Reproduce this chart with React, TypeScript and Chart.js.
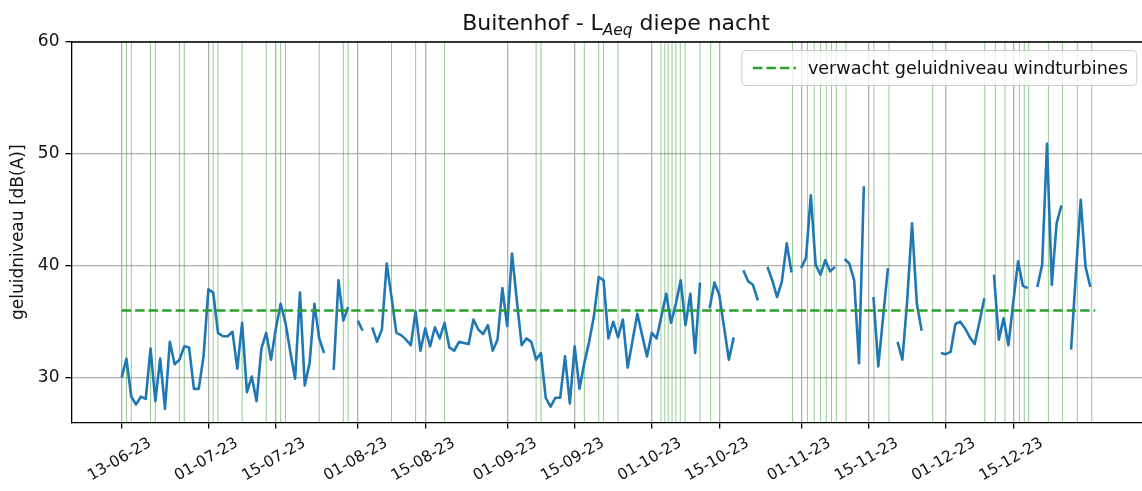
import React, { useEffect, useRef } from 'react';
import { Chart, registerables } from 'chart.js';

Chart.register(...registerables);

// ---------- data ----------
const startDate = '2023-06-13';

// nightly L_Aeq (dB(A)), one value per day from startDate; null = no measurement
const levels: (number | null)[] = [
  30.0, 31.7, 28.3, 27.6, 28.3, 28.1, 32.6, 27.9, 31.7, 27.2, // 13-06 .. 22-06
  33.2, 31.2, 31.6, 32.8, 32.7, 29.0, 29.0, 31.9, 37.9, 37.6, // 23-06 .. 02-07
  34.0, 33.7, 33.7, 34.1, 30.8, 34.9, 28.7, 30.1, 27.9, 32.6, // 03-07 .. 12-07
  34.0, 31.6, 34.4, 36.6, 34.9, 32.3, 29.9, 37.6, 29.3, 31.3, // 13-07 .. 22-07
  36.6, 33.5, 32.2, null, 30.7, 38.7, 35.1, 36.3, null, 35.1, // 23-07 .. 01-08
  34.2, null, 34.5, 33.2, 34.3, 40.2, 37.2, 34.0, 33.8, 33.4, // 02-08 .. 11-08
  32.9, 35.9, 32.4, 34.4, 32.8, 34.5, 33.5, 34.9, 32.7, 32.4, // 12-08 .. 21-08
  33.2, 33.1, 33.0, 35.2, 34.3, 33.9, 34.7, 32.4, 33.4, 38.0, // 22-08 .. 31-08
  34.6, 41.1, 36.9, 32.9, 33.5, 33.2, 31.6, 32.2, 28.2, 27.4, // 01-09 .. 10-09
  28.2, 28.2, 31.9, 27.7, 32.8, 29.0, 31.3, 33.2, 35.5, 39.0, // 11-09 .. 20-09
  38.7, 33.5, 35.0, 33.6, 35.2, 30.9, 33.3, 35.7, 33.8, 31.9, // 21-09 .. 30-09
  34.0, 33.5, 35.5, 37.5, 34.9, 36.6, 38.7, 34.7, 37.5, 32.2, // 01-10 .. 10-10
  38.5, null, 36.2, 38.5, 37.4, 34.5, 31.6, 33.6, null, 39.6, // 11-10 .. 20-10
  38.6, 38.3, 36.9, null, 39.9, 38.7, 37.2, 38.6, 42.0, 39.4, // 21-10 .. 30-10
  null, 39.8, 40.7, 46.3, 40.1, 39.2, 40.5, 39.5, 39.9, null, // 31-10 .. 09-11
  40.6, 40.2, 38.7, 31.3, 47.1, null, 37.2, 31.0, 35.4, 39.8, // 10-11 .. 19-11
  null, 33.2, 31.6, 36.9, 43.8, 36.6, 34.2, null, null, null, // 20-11 .. 29-11
  32.2, 32.1, 32.3, 34.8, 35.0, 34.4, 33.6, 33.0, 35.0, 37.1, // 30-11 .. 09-12
  null, 39.2, 33.4, 35.3, 32.9, 36.7, 40.4, 38.2, 38.0, null, // 10-12 .. 19-12
  38.1, 40.1, 50.9, 38.3, 43.8, 45.4, null, 32.5, 39.3, 45.9, // 20-12 .. 29-12
  39.9, 38.1, null,                                           // 30-12 .. 01-01
];

const seriesLabel = 'Buitenhof';
const expectedLabel = 'verwacht geluidniveau windturbines';
const expectedLevel = 36;
const expectedFrom = '2023-06-13';
const expectedTo = '2024-01-01';

// moments marked with a thin green vertical line
const windMarks = [
  '2023-06-14', '2023-06-15', '2023-06-19', '2023-06-20', '2023-06-25', '2023-06-26',
  '2023-07-02', '2023-07-03', '2023-07-08', '2023-07-13', '2023-07-16', '2023-07-17',
  '2023-07-24', '2023-07-29', '2023-07-30', '2023-08-08', '2023-08-13', '2023-08-19',
  '2023-09-07', '2023-09-08', '2023-09-17', '2023-09-20', '2023-09-21', '2023-09-24',
  '2023-10-02 22:00', '2023-10-03 17:00', '2023-10-04 10:00', '2023-10-05 05:00',
  '2023-10-06 00:00', '2023-10-06 22:00', '2023-10-07 22:00', '2023-10-11', '2023-10-13 05:00',
  '2023-10-30 05:00', '2023-11-02 07:00', '2023-11-03 17:00', '2023-11-05', '2023-11-06 05:00',
  '2023-11-07 07:00', '2023-11-08 07:00', '2023-11-10 07:00', '2023-11-16 02:00',
  '2023-11-19 05:00', '2023-11-28 07:00', '2023-12-09 02:00', '2023-12-11 07:00',
  '2023-12-13 07:00', '2023-12-16 07:00', '2023-12-17 07:00', '2023-12-18 05:00',
  '2023-12-22 07:00', '2023-12-25 05:00', '2023-12-28 07:00', '2023-12-31 07:00',
];

const xTickDates = [
  '2023-06-13', '2023-07-01', '2023-07-15', '2023-08-01', '2023-08-15', '2023-09-01',
  '2023-09-15', '2023-10-01', '2023-10-15', '2023-11-01', '2023-11-15', '2023-12-01', '2023-12-15',
];
const xTickLabels = [
  '13-06-23', '01-07-23', '15-07-23', '01-08-23', '15-08-23', '01-09-23',
  '15-09-23', '01-10-23', '15-10-23', '01-11-23', '15-11-23', '01-12-23', '15-12-23',
];
const xLimits = ['2023-06-02 14:24', '2024-01-11 09:36'];
const yTicks = [30, 40, 50, 60];
const yLimits = [26, 60];

const titleMain = 'Buitenhof - L';
const titleSub = 'Aeq';
const titleRest = ' diepe nacht';
const yTitle = 'geluidniveau [dB(A)]';

// ---------- helpers ----------
const FONT = '"DejaVu Sans", sans-serif';

function toDay(s: string): number {
  const [d, t] = s.split(' ');
  const [Y, M, D] = d.split('-').map(Number);
  const [h, m] = t ? t.split(':').map(Number) : [0, 0];
  const [Y0, M0, D0] = startDate.split('-').map(Number);
  return (Date.UTC(Y, M - 1, D, h, m) - Date.UTC(Y0, M0 - 1, D0)) / 86400000;
}

export default function App() {
  const ref = useRef<HTMLCanvasElement>(null);

  useEffect(() => {
    document.body.style.margin = '0';
    const canvas = ref.current;
    if (!canvas) return;

    const seriesPts = levels.map((v, i) => ({ x: i, y: v }));
    const expectedPts = [expectedFrom, expectedTo].map((s) => ({ x: toDay(s), y: expectedLevel }));
    const markX = windMarks.map(toDay);
    const tickX = xTickDates.map(toDay);

    const decor = {
      id: 'decor',
      beforeDatasetsDraw(chart: any) {
        const { ctx, chartArea: a, scales } = chart;
        const x = scales.x;
        ctx.save();
        ctx.beginPath();
        ctx.rect(a.left, a.top, a.right - a.left, a.bottom - a.top);
        ctx.clip();
        ctx.strokeStyle = 'rgba(0,128,0,0.42)';
        ctx.lineWidth = 1;
        markX.forEach((d) => {
          const px = x.getPixelForValue(d);
          ctx.beginPath();
          ctx.moveTo(px, a.top);
          ctx.lineTo(px, a.bottom);
          ctx.stroke();
        });
        ctx.restore();
      },
      afterDraw(chart: any) {
        const { ctx, chartArea: a, scales } = chart;
        const x = scales.x;
        ctx.save();
        // top & right spines
        ctx.strokeStyle = '#000';
        ctx.lineWidth = 1.3;
        ctx.beginPath();
        ctx.moveTo(a.left - 0.65, a.top);
        ctx.lineTo(a.right, a.top);
        ctx.lineTo(a.right, a.bottom);
        ctx.stroke();

        // x tick labels (rotated 30°, centred on tick)
        const xf = 15.5;
        ctx.font = `${xf}px ${FONT}`;
        ctx.fillStyle = '#111';
        ctx.textAlign = 'center';
        ctx.textBaseline = 'middle';
        const rot = (30 * Math.PI) / 180;
        const top = a.bottom + 6 + 6;
        tickX.forEach((d, i) => {
          const px = x.getPixelForValue(d) - 2;
          const w = ctx.measureText(xTickLabels[i]).width;
          const h = xf * 1.16;
          const H = w * Math.sin(rot) + h * Math.cos(rot);
          ctx.save();
          ctx.translate(px, top + H / 2);
          ctx.rotate(-rot);
          ctx.fillText(xTickLabels[i], 0, 0);
          ctx.restore();
        });

        // title with italic subscript
        const tf = 22;
        const sf = tf * 0.7;
        ctx.textAlign = 'left';
        ctx.textBaseline = 'alphabetic';
        ctx.font = `${tf}px ${FONT}`;
        const w1 = ctx.measureText(titleMain).width;
        const w3 = ctx.measureText(titleRest).width;
        ctx.font = `italic ${sf}px ${FONT}`;
        const w2 = ctx.measureText(titleSub).width;
        const total = w1 + w2 + w3;
        let tx = 616 - total / 2;
        const base = 30;
        ctx.font = `${tf}px ${FONT}`;
        ctx.fillText(titleMain, tx, base);
        tx += w1;
        ctx.font = `italic ${sf}px ${FONT}`;
        ctx.fillText(titleSub, tx, base + 4.5);
        tx += w2;
        ctx.font = `${tf}px ${FONT}`;
        ctx.fillText(titleRest, tx, base);

        // legend
        const lf = 17.6;
        ctx.font = `${lf}px ${FONT}`;
        const lw = ctx.measureText(expectedLabel).width;
        const boxR = a.right - 8.5;
        const boxT = a.top + 8.5;
        const boxB = boxT + 35;
        const textR = boxR - 9;
        const textL = textR - lw;
        const hEnd = textL - 12;
        const hStart = hEnd - 43;
        const boxL = hStart - 11;
        const yc = (boxT + boxB) / 2;
        ctx.beginPath();
        (ctx as any).roundRect(boxL, boxT, boxR - boxL, boxB - boxT, 4);
        ctx.fillStyle = 'rgba(255,255,255,0.8)';
        ctx.fill();
        ctx.strokeStyle = '#cccccc';
        ctx.lineWidth = 1;
        ctx.stroke();
        ctx.beginPath();
        ctx.setLineDash([9.5, 4]);
        ctx.strokeStyle = '#2ca02c';
        ctx.lineWidth = 2.5;
        ctx.moveTo(hStart, yc);
        ctx.lineTo(hEnd, yc);
        ctx.stroke();
        ctx.setLineDash([]);
        ctx.fillStyle = '#111';
        ctx.textBaseline = 'middle';
        ctx.fillText(expectedLabel, textL, yc + 1);
        ctx.restore();
      },
    };

    const gridCommon = {
      color: '#b0b0b0',
      lineWidth: 1.3,
      tickColor: '#000',
      tickWidth: 1.3,
      tickLength: 6,
      drawTicks: true,
    };

    const chart = new Chart(canvas, {
      type: 'line',
      data: {
        datasets: [
          {
            label: expectedLabel,
            data: expectedPts,
            borderColor: '#2ca02c',
            borderWidth: 2.5,
            borderDash: [9.5, 4],
            pointRadius: 0,
            order: 0,
          },
          {
            label: seriesLabel,
            data: seriesPts as any,
            borderColor: '#1f77b4',
            borderWidth: 2.6,
            pointRadius: 0,
            spanGaps: false,
            tension: 0,
            borderJoinStyle: 'round',
            borderCapStyle: 'butt',
            order: 1,
          },
        ],
      },
      options: {
        responsive: false,
        animation: false,
        devicePixelRatio: 1,
        layout: { padding: { top: 42, left: 0, right: 1152 - 1145.3, bottom: 0 } },
        plugins: { legend: { display: false }, tooltip: { enabled: false }, title: { display: false } },
        scales: {
          x: {
            type: 'linear',
            min: toDay(xLimits[0]),
            max: toDay(xLimits[1]),
            afterBuildTicks: (s: any) => {
              s.ticks = tickX.map((v) => ({ value: v }));
            },
            afterFit: (s: any) => {
              s.height = 491 - 422.4;
            },
            grid: gridCommon,
            border: { display: true, color: '#000', width: 1.3 },
            ticks: { display: false },
          },
          y: {
            min: yLimits[0],
            max: yLimits[1],
            afterBuildTicks: (s: any) => {
              s.ticks = yTicks.map((v) => ({ value: v }));
            },
            afterFit: (s: any) => {
              s.width = 71.5;
            },
            grid: gridCommon,
            border: { display: true, color: '#000', width: 1.3 },
            ticks: { padding: 6, color: '#111', font: { family: FONT, size: 17 } },
            title: {
              display: true,
              text: yTitle,
              color: '#111',
              font: { family: FONT, size: 17 },
              padding: { top: 8, bottom: 0 },
            },
          },
        },
      },
      plugins: [decor],
    });

    return () => chart.destroy();
  }, []);

  return (
    <div style={{ width: 1142, height: 491, overflow: 'hidden', position: 'relative' }}>
      <canvas ref={ref} width={1152} height={491} style={{ display: 'block' }} />
    </div>
  );
}
